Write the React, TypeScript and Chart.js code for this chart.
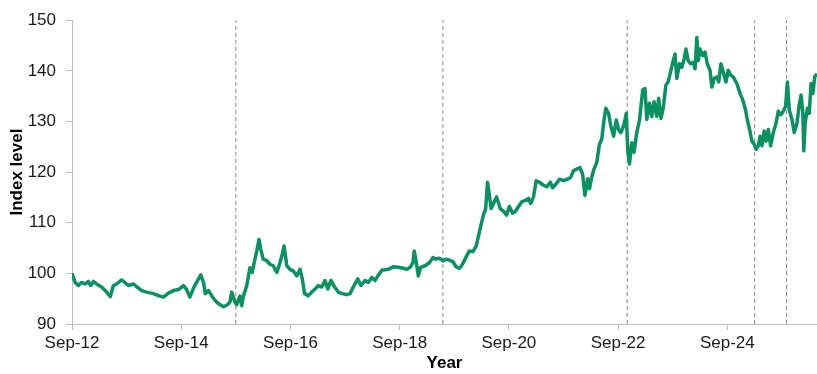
import { useEffect, useRef } from 'react';
import { Chart, registerables } from 'chart.js';

Chart.register(...registerables);

// Months elapsed since Sep-2012
const months = [
  0, 0.7, 1.4, 2.1, 2.9, 3.6, 4.1, 4.7, 5.4, 6.5, 7.6, 8.4, 9.1, 9.8, 10.9, 11.6, 12.4, 13.5, 14.2, 15.3,
  16.4, 17.9, 19.0, 20.1, 21.2, 22.3, 23.4, 24.5, 25.2, 25.9, 26.8, 27.8, 28.3, 28.9, 29.3, 30.0, 30.7, 31.4, 32.2, 33.3,
  34.0, 34.7, 35.1, 35.8, 36.2, 36.9, 37.3, 37.6, 38.4, 39.1, 39.6, 40.2, 40.6, 41.1, 41.5, 42.0, 42.8, 43.5, 44.2, 45.0,
  45.7, 46.2, 46.6, 47.2, 47.9, 48.6, 49.4, 50.1, 50.6, 51.1, 51.9, 52.7, 53.4, 54.1, 54.9, 55.6, 56.2, 56.9, 57.7, 58.5,
  59.4, 60.4, 61.1, 61.8, 62.8, 63.5, 64.4, 65.1, 65.9, 66.6, 67.2, 68.1, 69.5, 70.6, 71.7, 72.8, 73.6, 74.3, 74.9, 75.2,
  75.6, 76.1, 76.6, 77.6, 78.5, 79.3, 80.0, 80.7, 81.5, 82.2, 82.9, 83.7, 84.4, 85.1, 85.6, 86.2, 86.7, 87.3, 88.1, 88.8,
  89.3, 89.8, 90.4, 90.9, 91.3, 91.6, 92.1, 92.6, 93.3, 94.1, 94.9, 95.5, 96.1, 96.8, 97.4, 98.1, 98.8, 99.6, 100.3, 100.8,
  101.4, 102.0, 102.7, 103.6, 104.3, 105.1, 105.6, 106.4, 107.1, 108.0, 108.9, 109.6, 110.2, 110.9, 111.6, 112.2, 112.7, 113.3, 113.7, 114.2,
  114.7, 115.3, 115.9, 116.4, 116.9, 117.3, 117.9, 118.4, 119.0, 119.6, 120.1, 120.6, 121.2, 121.8, 122.1, 122.5, 123.0, 123.5, 124.1, 124.7,
  125.4, 125.9, 126.3, 126.9, 127.4, 127.9, 128.5, 128.9, 129.4, 129.9, 130.5, 131.0, 131.6, 132.1, 132.5, 132.9, 133.5, 134.0, 134.5, 134.9,
  135.4, 135.9, 136.5, 136.9, 137.3, 137.6, 138.0, 138.6, 139.1, 139.6, 140.2, 140.6, 141.1, 141.7, 142.1, 142.6, 143.2, 143.7, 144.2, 144.8,
  145.3, 146.1, 146.8, 147.4, 148.0, 148.4, 148.9, 149.4, 149.9, 150.3, 150.8, 151.2, 151.6, 152.1, 152.5, 153.0, 153.5, 154.1, 154.7, 155.2,
  155.7, 156.3, 156.8, 157.2, 157.6, 158.2, 158.7, 159.3, 159.8, 160.2, 160.6, 160.8, 161.1, 161.6, 162.0, 162.4, 162.8, 163.2, 163.7,
];

const values = [
  100.0, 98.2, 97.6, 98.2, 97.9, 98.4, 97.6, 98.4, 97.9, 97.3, 96.3, 95.4, 97.6, 97.9, 98.7, 98.2, 97.6, 97.9, 97.4, 96.6,
  96.3, 96.0, 95.6, 95.3, 96.1, 96.6, 96.8, 97.6, 96.8, 95.3, 97.3, 98.9, 99.7, 98.2, 96.0, 96.6, 95.6, 94.7, 94.0, 93.4,
  93.7, 94.3, 96.3, 94.3, 93.8, 95.5, 93.6, 95.3, 97.6, 101.1, 100.2, 102.8, 104.4, 106.7, 104.7, 102.8, 102.5, 101.8, 101.5, 100.2,
  102.1, 103.8, 105.4, 101.5, 100.8, 100.5, 99.5, 100.8, 98.9, 96.0, 95.6, 96.3, 96.9, 97.6, 97.3, 98.6, 96.9, 98.6, 97.3, 96.3,
  96.0, 95.8, 96.0, 97.3, 98.9, 97.6, 98.6, 98.2, 99.2, 98.6, 99.5, 100.6, 100.8, 101.3, 101.2, 101.0, 100.8, 101.2, 102.1, 104.4,
  102.5, 99.5, 101.2, 101.5, 102.1, 103.1, 102.8, 103.0, 102.5, 102.8, 102.6, 102.3, 101.3, 101.0, 101.5, 102.5, 103.4, 104.4, 104.3, 105.4,
  107.3, 109.3, 111.5, 112.8, 118.0, 116.1, 112.8, 113.8, 115.1, 112.8, 112.2, 111.5, 113.2, 111.9, 112.2, 113.2, 114.1, 114.4, 114.8, 113.8,
  115.1, 118.3, 118.0, 117.4, 117.1, 118.0, 116.9, 117.7, 118.6, 118.3, 118.6, 119.0, 120.3, 120.6, 120.9, 119.6, 115.4, 118.7, 116.7, 119.0,
  120.6, 121.9, 125.5, 126.5, 130.3, 132.6, 131.6, 129.1, 127.1, 130.3, 128.4, 127.8, 129.1, 131.6, 124.5, 121.6, 125.8, 123.9, 127.8, 130.3,
  136.2, 136.5, 130.4, 133.6, 131.0, 133.9, 131.0, 134.6, 130.6, 132.6, 137.2, 137.8, 140.1, 142.0, 143.3, 138.5, 141.4, 140.7, 142.3, 144.3,
  142.0, 141.4, 141.7, 140.4, 146.6, 142.0, 144.3, 143.0, 143.7, 141.4, 140.1, 136.8, 138.5, 138.8, 137.8, 141.4, 139.4, 137.8, 140.1, 139.1,
  138.8, 137.5, 135.5, 134.2, 132.3, 130.3, 128.4, 126.1, 125.5, 124.5, 125.2, 127.1, 125.2, 128.1, 126.1, 128.4, 125.2, 127.8, 129.7, 132.0,
  131.3, 132.0, 133.0, 137.8, 132.3, 130.4, 127.8, 129.7, 133.3, 135.2, 131.6, 124.2, 129.7, 132.6, 131.6, 137.5, 135.5, 138.8, 139.4,
];

const eventMonths = [36, 81.5, 122, 150, 157];
const tickMonths = [0, 24, 48, 72, 96, 120, 144];
const tickLabels = ['Sep-12', 'Sep-14', 'Sep-16', 'Sep-18', 'Sep-20', 'Sep-22', 'Sep-24'];
const yMin = 90;
const yMax = 150;
const xMax = 163.7;

export default function App() {
  const ref = useRef<HTMLCanvasElement>(null);

  useEffect(() => {
    const family = "'Liberation Sans', Arial, sans-serif";
    const series = months.map((m, i) => ({ x: m, y: values[i] }));
    const eventSets = eventMonths.map((m) => ({
      data: [
        { x: m, y: yMin },
        { x: m, y: yMax },
      ],
      borderColor: '#8a8a8a',
      borderWidth: 1,
      borderDash: [4, 3],
      pointRadius: 0,
      fill: false,
    }));

    const chart = new Chart(ref.current as HTMLCanvasElement, {
      type: 'line',
      data: {
        datasets: [
          {
            data: series,
            borderColor: '#0a9160',
            borderWidth: 3.5,
            borderJoinStyle: 'round',
            pointRadius: 0,
            tension: 0,
            fill: false,
          },
          ...eventSets,
        ] as any,
      },
      options: {
        animation: false,
        responsive: false,
        maintainAspectRatio: false,
        layout: { padding: { top: 16, right: 0, left: 0, bottom: 0 } },
        plugins: { legend: { display: false }, tooltip: { enabled: false } },
        scales: {
          x: {
            type: 'linear',
            min: 0,
            max: xMax,
            afterBuildTicks: (axis: any) => {
              axis.ticks = tickMonths.map((v) => ({ value: v }));
            },
            afterFit: (s: any) => {
              s.height = 50;
            },
            ticks: {
              autoSkip: false,
              maxRotation: 0,
              padding: 3,
              color: '#1a1a1a',
              font: { family, size: 17 },
              callback: (_v: any, i: number) => tickLabels[i],
            },
            grid: { drawOnChartArea: false, drawTicks: true, tickLength: 6, color: '#bfbfbf' },
            border: { color: '#bfbfbf', width: 1 },
            title: {
              display: true,
              text: 'Year',
              color: '#000',
              font: { family, size: 17, weight: 'bold' },
              padding: { top: 0, bottom: 0 },
            },
          },
          y: {
            min: yMin,
            max: yMax,
            afterFit: (s: any) => {
              s.width = 72;
            },
            ticks: {
              stepSize: 10,
              padding: 10,
              color: '#1a1a1a',
              font: { family, size: 17 },
            },
            grid: { drawOnChartArea: false, drawTicks: true, tickLength: 6, color: '#bfbfbf' },
            border: { color: '#bfbfbf', width: 1 },
            title: {
              display: true,
              text: 'Index level',
              color: '#000',
              font: { family, size: 17, weight: 'bold' },
              padding: { top: 7, bottom: 0 },
            },
          },
        },
      } as any,
    });
    return () => chart.destroy();
  }, []);

  return (
    <div style={{ position: 'absolute', left: 0, top: 0, width: 817, height: 374 }}>
      <canvas ref={ref} width={817} height={374} style={{ display: 'block' }} />
    </div>
  );
}
